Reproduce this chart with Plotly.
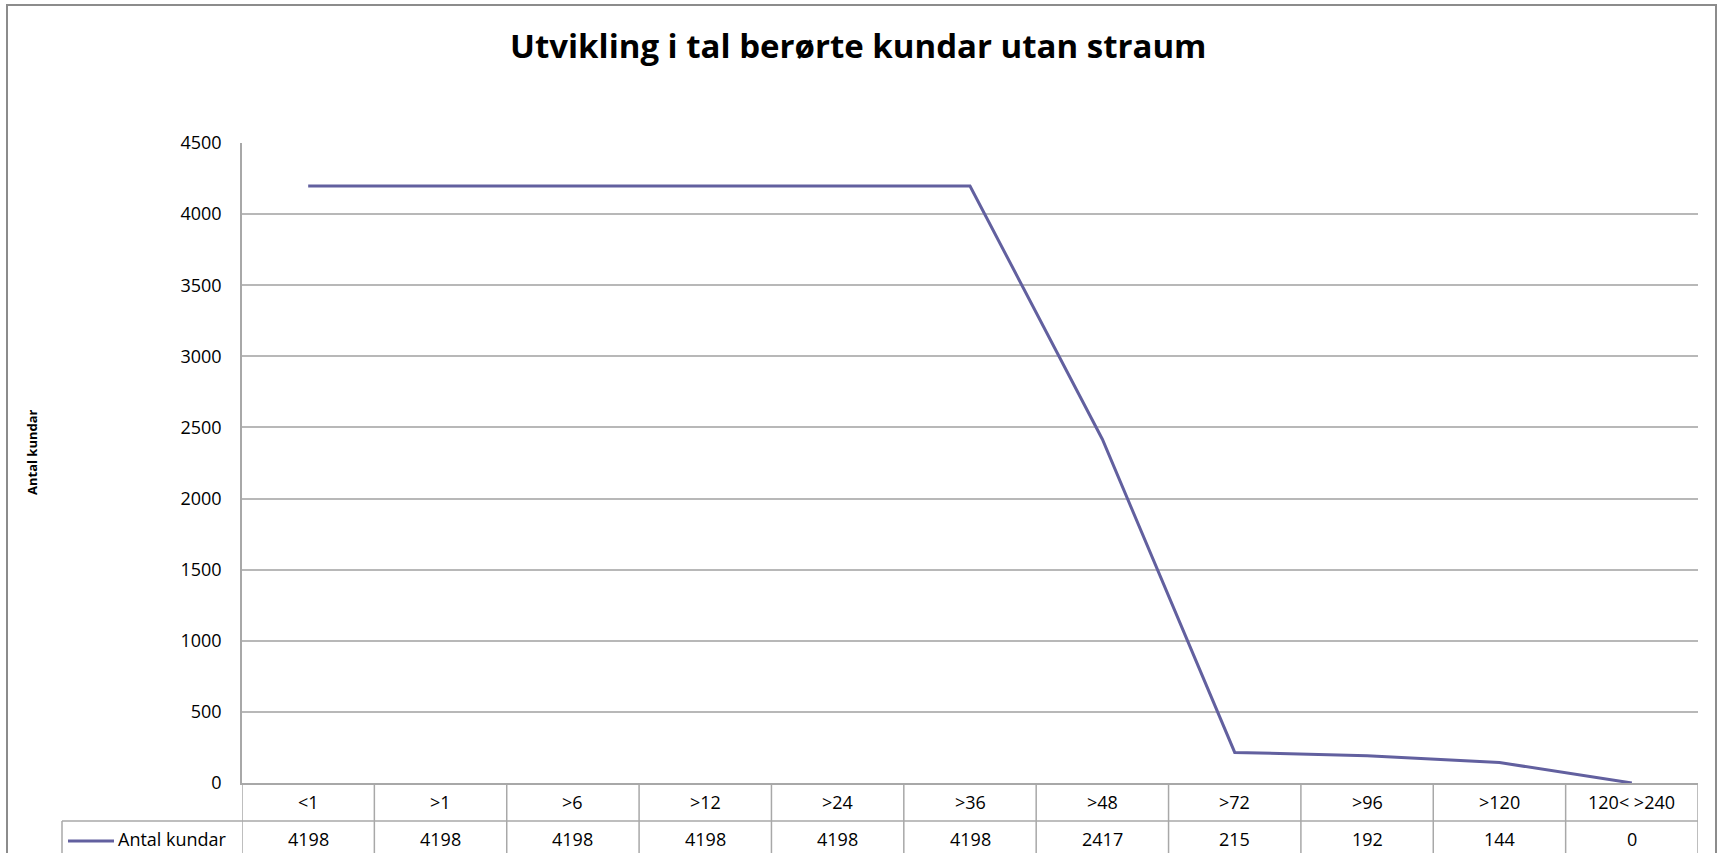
import plotly.graph_objects as go

categories = ["<1", ">1", ">6", ">12", ">24", ">36", ">48", ">72", ">96", ">120", "120< >240"]
values = [4198, 4198, 4198, 4198, 4198, 4198, 2417, 215, 192, 144, 0]
series_name = "Antal kundar"
title_text = "Utvikling i tal berørte kundar utan straum"
y_title = "Antal kundar"

W, H = 1717, 853
PL, PR, PT, PB = 242, 1698, 143, 783
LINE_COLOR = "#62609F"
GRID = "#B8B8B8"
TABLE = "#A8A8A8"
FONT = "Open Sans"


def px_x(px):
    return (px - PL) / (PR - PL)


def px_y(py):
    return (PB - py) / (PB - PT)


def esc(s):
    return s.replace("&", "&amp;").replace("<", "&lt;").replace(">", "&gt;")


fig = go.Figure()
fig.add_trace(go.Scatter(
    x=list(range(len(categories))), y=values, mode="lines",
    line=dict(color=LINE_COLOR, width=3), name=series_name,
    text=categories, hovertemplate="%{text}: %{y}<extra></extra>",
))

shapes = []
annotations = []

# outer chart border
shapes.append(dict(type="rect", xref="paper", yref="paper",
                   x0=px_x(7), x1=px_x(1716), y0=px_y(880), y1=px_y(5),
                   line=dict(color="#8C8C8C", width=2), layer="below"))

row1_top, row_mid, row2_bot = 783, 821, 880
# vertical table lines
for i in range(len(categories) + 1):
    shapes.append(dict(type="line", xref="x", yref="paper",
                       x0=i - 0.5, x1=i - 0.5, y0=px_y(row1_top), y1=px_y(row2_bot),
                       line=dict(color=TABLE, width=1.5)))
# horizontal table lines
shapes.append(dict(type="line", xref="paper", yref="paper",
                   x0=px_x(62), x1=1, y0=px_y(row_mid), y1=px_y(row_mid),
                   line=dict(color=TABLE, width=1.5)))
shapes.append(dict(type="line", xref="paper", yref="paper",
                   x0=px_x(62), x1=px_x(62), y0=px_y(row_mid), y1=px_y(row2_bot),
                   line=dict(color=TABLE, width=1.5)))
# legend key line
shapes.append(dict(type="line", xref="paper", yref="paper",
                   x0=px_x(68), x1=px_x(114), y0=px_y(841), y1=px_y(841),
                   line=dict(color=LINE_COLOR, width=3)))

for i, (c, v) in enumerate(zip(categories, values)):
    annotations.append(dict(x=i, y=px_y(802), xref="x", yref="paper",
                            text=esc(c), showarrow=False,
                            font=dict(family=FONT, size=18, color="#000"),
                            xanchor="center", yanchor="middle"))
    annotations.append(dict(x=i, y=px_y(839), xref="x", yref="paper",
                            text=str(v), showarrow=False,
                            font=dict(family=FONT, size=18, color="#000"),
                            xanchor="center", yanchor="middle"))

annotations.append(dict(x=px_x(116), y=px_y(839), xref="paper", yref="paper",
                        text=series_name, showarrow=False,
                        font=dict(family=FONT, size=18, color="#000"),
                        xanchor="left", yanchor="middle"))

annotations.append(dict(x=px_x(32), y=px_y(452), xref="paper", yref="paper",
                        text="<b>" + y_title + "</b>", showarrow=False, textangle=-90,
                        font=dict(family=FONT, size=13, color="#000"),
                        xanchor="center", yanchor="middle"))

annotations.append(dict(x=px_x(858), y=px_y(45), xref="paper", yref="paper",
                        text="<b>" + title_text + "</b>", showarrow=False,
                        font=dict(family=FONT, size=33, color="#000"),
                        xanchor="center", yanchor="middle"))

fig.update_layout(
    width=W, height=H,
    margin=dict(l=PL, r=W - PR, t=PT, b=H - PB, pad=0),
    paper_bgcolor="white", plot_bgcolor="white",
    showlegend=False,
    shapes=shapes, annotations=annotations,
    xaxis=dict(range=[-0.5, len(categories) - 0.5], showticklabels=False,
               showgrid=False, zeroline=False, showline=True,
               linecolor=TABLE, linewidth=1.5, ticks="", fixedrange=True),
    yaxis=dict(range=[0, 4500], dtick=500, tick0=0, showgrid=True,
               gridcolor=GRID, gridwidth=1.5, zeroline=False,
               showline=True, linecolor=TABLE, linewidth=1.5, ticks="",
               ticklabelstandoff=15,
               tickfont=dict(family=FONT, size=18, color="#000"),
               fixedrange=True),
)

fig.write_html(
    "out.html",
    config={"displayModeBar": False},
    post_script="document.body.style.margin='0';document.body.style.overflow='hidden';",
)
